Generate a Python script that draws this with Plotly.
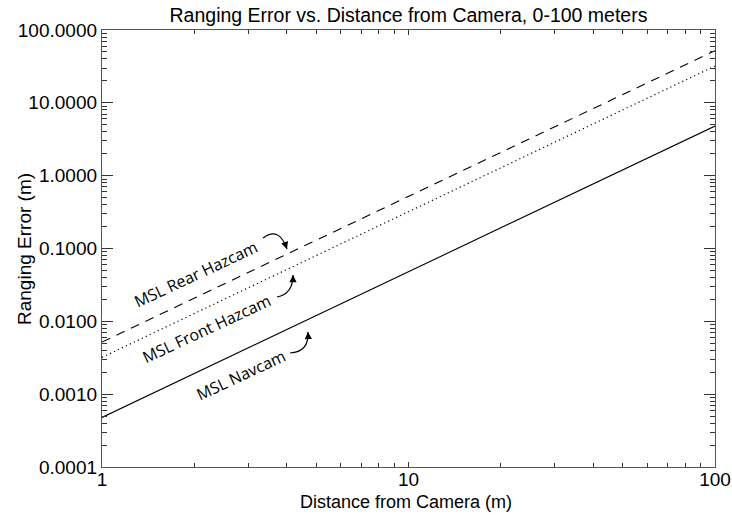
import plotly.graph_objects as go

# ---- data ----
distance = [1, 100]
navcam = [0.00048, 4.8]
front_hazcam = [0.0032, 32.0]
rear_hazcam = [0.0052, 52.0]

y_tickvals = [0.0001, 0.001, 0.01, 0.1, 1, 10, 100]
y_ticktext = ["0.0001", "0.0010", "0.0100", "0.1000", "1.0000", "10.0000", "100.0000"]
x_tickvals = [1, 10, 100]
x_ticktext = ["1", "10", "100"]

labels = ["MSL Rear Hazcam", "MSL Front Hazcam", "MSL Navcam"]

# ---- layout geometry (pixels) ----
W, H = 732, 515
L, R, T, B = 102, 17, 30, 48
PW, PH = W - L - R, H - T - B


def px(x, y):
    return (x - L) / PW, (H - B - y) / PH


fig = go.Figure()
fig.add_trace(go.Scatter(x=distance, y=rear_hazcam, mode="lines",
                         line=dict(color="black", width=1.1, dash="9px,7px"), showlegend=False))
fig.add_trace(go.Scatter(x=distance, y=front_hazcam, mode="lines",
                         line=dict(color="black", width=1.2, dash="1.2px,3.2px"), showlegend=False))
fig.add_trace(go.Scatter(x=distance, y=navcam, mode="lines",
                         line=dict(color="black", width=1.1), showlegend=False))

minor_vals = [2, 3, 4, 5, 6, 7, 8, 9, 20, 30, 40, 50, 60, 70, 80, 90]
y_minor = []
for d in [0.0001, 0.001, 0.01, 0.1, 1, 10]:
    for k in range(2, 10):
        y_minor.append(round(d * k, 6))

FAM = "Liberation Sans, Arial, sans-serif"
axis_font = dict(family=FAM, size=19, color="black")

fig.update_xaxes(type="log", range=[0, 2], tickvals=x_tickvals, ticktext=x_ticktext,
                 ticks="inside", ticklen=5, tickwidth=1, tickcolor="#333",
                 showline=True, linecolor="#555", linewidth=1.3, mirror="ticks",
                 showgrid=False, zeroline=False, tickfont=axis_font, automargin=False,
                 ticklabelstandoff=-5,
                 minor=dict(tickvals=minor_vals, ticks="inside", ticklen=4, tickcolor="#333", showgrid=False))
fig.update_yaxes(type="log", range=[-4, 2], tickvals=y_tickvals, ticktext=y_ticktext,
                 ticks="inside", ticklen=11, tickwidth=1, tickcolor="#333",
                 showline=True, linecolor="#555", linewidth=1.3, mirror="ticks",
                 showgrid=False, zeroline=False, tickfont=axis_font, automargin=False,
                 minor=dict(tickvals=y_minor, ticks="inside", ticklen=5, tickcolor="#333", showgrid=False))

annotations = []
# axis titles
xt, yt = px(406, 502)
annotations.append(dict(x=xt, y=yt, xref="paper", yref="paper", text="Distance from Camera (m)",
                        showarrow=False, font=dict(family=FAM, size=18, color="black"),
                        xanchor="center", yanchor="middle"))
xt, yt = px(24, 249)
annotations.append(dict(x=xt, y=yt, xref="paper", yref="paper", text="Ranging Error (m)",
                        showarrow=False, textangle=-90, font=dict(family=FAM, size=19, color="black"),
                        xanchor="center", yanchor="middle"))

# text labels
label_font = dict(family="Open Sans, DejaVu Sans, sans-serif", size=16, color="black")
label_pos = [(196, 274), (206, 329), (241, 375)]
for txt, (lx, ly) in zip(labels, label_pos):
    xp, yp = px(lx, ly)
    annotations.append(dict(x=xp, y=yp, xref="paper", yref="paper", text=txt,
                            showarrow=False, textangle=-25, font=label_font,
                            xanchor="center", yanchor="middle"))

# curved arrows: (start, control, end) in pixels
curves = [((263, 238), (279, 226), (287, 249)),
          ((277, 297), (293, 294), (293, 275)),
          ((290, 353), (309, 352), (308, 332))]
shapes = []
for (s, c, e) in curves:
    sx, sy = px(*s)
    cx, cy = px(*c)
    ex, ey = px(*e)
    shapes.append(dict(type="path", xref="paper", yref="paper",
                       path=f"M {sx},{sy} Q {cx},{cy} {ex},{ey}",
                       line=dict(color="black", width=1.2)))
    dx, dy = e[0] - c[0], e[1] - c[1]
    n = (dx * dx + dy * dy) ** 0.5
    k = 6 / n
    annotations.append(dict(x=ex, y=ey, xref="paper", yref="paper", text="",
                            showarrow=True, arrowhead=2, arrowsize=1.2, arrowwidth=1.2,
                            arrowcolor="black", ax=-dx * k, ay=-dy * k, standoff=0))

fig.update_layout(
    width=W, height=H,
    margin=dict(l=L, r=R, t=T, b=B),
    paper_bgcolor="white", plot_bgcolor="white",
    title=dict(text="Ranging Error vs. Distance from Camera, 0-100 meters",
               x=0.5, xref="paper", xanchor="center", y=1 - 15 / H, yref="container",
               yanchor="middle", automargin=False,
               font=dict(family=FAM, size=19.5, color="black")),
    annotations=annotations, shapes=shapes,
)

fig.write_html("out.html")
